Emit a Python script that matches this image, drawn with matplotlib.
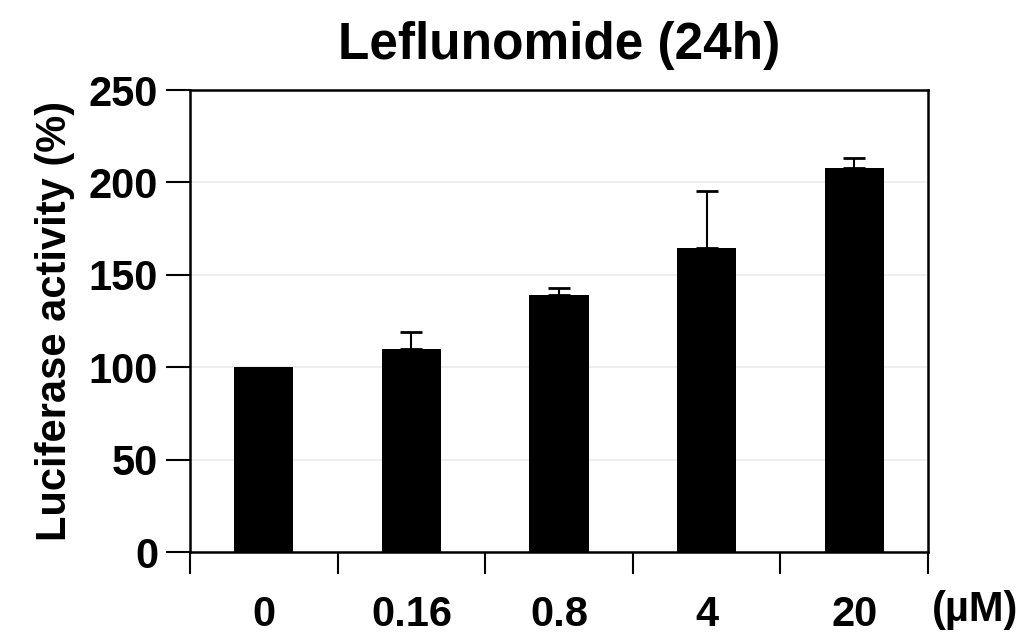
import matplotlib
matplotlib.use("Agg")
import matplotlib.pyplot as plt

# data
doses = ['0', '0.16', '0.8', '4', '20']
activity = [100, 110, 139, 164.5, 208]
errors = [0, 9, 4, 31, 5]
yticks = [0, 50, 100, 150, 200, 250]

plt.rcParams['font.family'] = ['Liberation Sans', 'DejaVu Sans']

fig = plt.figure(figsize=(10.2, 6.36), dpi=100)
ax = fig.add_axes([190/1020, 1 - 552/636, (928 - 190)/1020, (552 - 90)/636])

pos = list(range(len(doses)))
ax.bar(pos, activity, width=0.4, color='black', zorder=3)

# only the upper half of the error bars, skip the control (no error)
ep = [p for p, e in zip(pos, errors) if e > 0]
ev = [a for a, e in zip(activity, errors) if e > 0]
ee = [e for e in errors if e > 0]
ax.errorbar(ep, ev, yerr=[[0]*len(ee), ee], fmt='none',
            ecolor='black', elinewidth=1.5, capsize=8, capthick=2, zorder=2)

ax.set_xlim(-0.5, len(doses) - 0.5)
ax.set_ylim(0, 250)
ax.set_yticks(yticks)
ax.set_yticklabels([str(v) for v in yticks], fontsize=30, fontweight='bold')
ax.grid(axis='y', color='#ebebeb', linewidth=1.2, zorder=0)

# ticks between categories, labels under the bars
ax.set_xticks([p - 0.5 for p in pos] + [len(doses) - 0.5])
ax.set_xticklabels([])
ax.set_xticks(pos, minor=True)
ax.set_xticklabels(doses, minor=True, fontsize=30, fontweight='bold')
ax.tick_params(axis='x', which='minor', length=0, pad=31)
ax.tick_params(axis='x', which='major', length=16, width=1.5, direction='out')
ax.tick_params(axis='y', length=17, width=1.5, direction='out', pad=6)

for s in ax.spines.values():
    s.set_linewidth(1.8)

ax.set_ylabel('Luciferase activity (%)', fontsize=30, fontweight='bold', labelpad=10)
ax.set_title('Leflunomide (24h)', fontsize=37, fontweight='bold', pad=22)
fig.text(975/1020, 1 - 610/636, '(µM)', fontsize=30, fontweight='bold',
         ha='center', va='center')

plt.savefig('out.png', dpi=100)
